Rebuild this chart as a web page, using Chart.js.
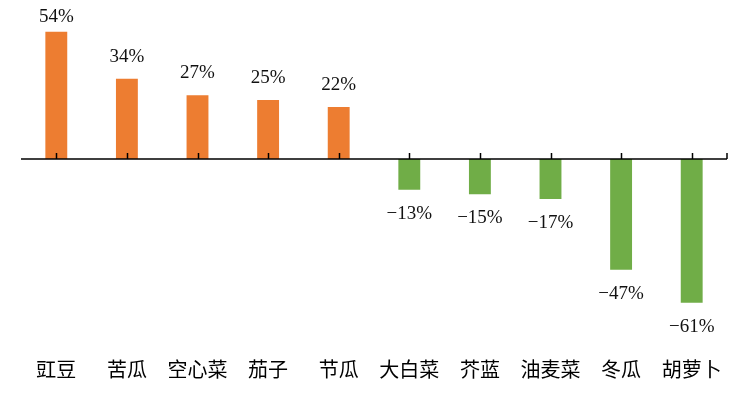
<!DOCTYPE html>
<html>
<head>
<meta charset="utf-8">
<script src="https://cdn.jsdelivr.net/npm/chart.js@4"></script>
<style>
  html, body { margin: 0; padding: 0; background: #fff; }
  #wrap { width: 750px; height: 398px; }
</style>
</head>
<body>
<div id="wrap"><canvas id="myChart" width="750" height="398"></canvas></div>
<script>
// categories and change in percent
var labels = ["豇豆", "苦瓜", "空心菜", "茄子", "节瓜", "大白菜", "芥蓝", "油麦菜", "冬瓜", "胡萝卜"];
var values = [54, 34, 27, 25, 22, -13, -15, -17, -47, -61];

var upColor = '#ED7D31';
var downColor = '#70AD47';

// zero axis line with ticks at bar centres, plus value labels
var zeroAxis = {
    id: 'zeroAxis',
    afterDatasetsDraw: function(chart) {
        var c = chart.ctx;
        var x = chart.scales.x, y = chart.scales.y;
        var area = chart.chartArea;
        var y0 = y.getPixelForValue(0);
        c.save();
        c.strokeStyle = '#000';
        c.lineWidth = 1.5;
        c.beginPath();
        c.moveTo(area.left, y0);
        c.lineTo(area.right, y0);
        for (var i = 0; i < labels.length; i++) {
            var px = Math.round(x.getPixelForValue(i)) + 0.5;
            c.moveTo(px, y0);
            c.lineTo(px, y0 - 6);
        }
        c.moveTo(area.right, y0);
        c.lineTo(area.right, y0 - 6);
        c.stroke();

        c.fillStyle = '#111';
        c.font = '19px "Liberation Serif"';
        c.textAlign = 'center';
        c.textBaseline = 'middle';
        chart.getDatasetMeta(0).data.forEach(function(bar, i) {
            var v = values[i];
            var txt = (v < 0 ? '\u2212' + Math.abs(v) : v) + '%';
            var ty = v >= 0 ? Math.max(bar.y - 22, area.top) : bar.y + 24;
            c.fillText(txt, bar.x, ty);
        });
        c.restore();
    }
};

var ctx = document.getElementById('myChart').getContext('2d');
var chart = new Chart(ctx, {
    type: 'bar',
    data: {
        labels: labels,
        datasets: [{
            data: values,
            backgroundColor: values.map(function(v) { return v >= 0 ? upColor : downColor; }),
            borderWidth: 0,
            barPercentage: 0.31,
            categoryPercentage: 1
        }]
    },
    options: {
        responsive: false,
        animation: false,
        layout: { padding: { left: 21, right: 23, top: 17.5, bottom: 10 } },
        plugins: {
            legend: { display: false },
            tooltip: { enabled: false }
        },
        scales: {
            x: {
                grid: { display: false, drawTicks: false },
                border: { display: false },
                ticks: {
                    color: '#000',
                    padding: 7,
                    maxRotation: 0,
                    autoSkip: false,
                    font: { family: '"Noto Sans CJK SC"', size: 20 }
                }
            },
            y: {
                display: false,
                min: -81,
                max: 60
            }
        }
    },
    plugins: [zeroAxis]
});
</script>
</body>
</html>
